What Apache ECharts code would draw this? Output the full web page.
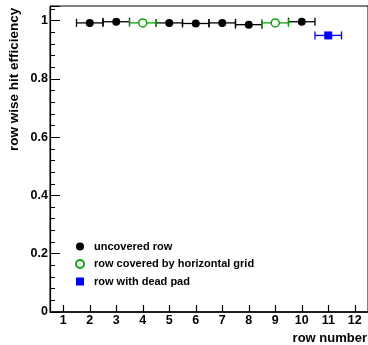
<!DOCTYPE html>
<html>
<head>
<meta charset="utf-8">
<script src="https://cdn.jsdelivr.net/npm/echarts@6/dist/echarts.min.js"></script>
<style>
  html, body { margin: 0; padding: 0; background: #fff; }
  #chart { width: 368px; height: 345px; }
</style>
</head>
<body>
<div id="chart"></div>
<script>
// row efficiencies
const uncoveredRows = [2, 3, 5, 6, 7, 8, 10];
const uncoveredEff = [0.992, 0.996, 0.992, 0.990, 0.992, 0.986, 0.996];
const gridRows = [4, 9];
const gridEff = [0.992, 0.992];
const deadRows = [11];
const deadEff = [0.949];
const rowHalfWidth = 0.5;
const xTickLabels = [1, 2, 3, 4, 5, 6, 7, 8, 9, 10, 11, 12];

const FONT = '"Liberation Sans", Arial, sans-serif';
const GREEN = '#12a012';

function pairs(xs, ys) {
  return xs.map((x, i) => [x, ys[i]]);
}

// horizontal error bar with end caps
function errBar(color) {
  return function (params, api) {
    const x = api.value(0);
    const y = api.value(1);
    const a = api.coord([x - rowHalfWidth, y]);
    const b = api.coord([x + rowHalfWidth, y]);
    const st = { stroke: color, lineWidth: 1.3 };
    return {
      type: 'group',
      children: [
        { type: 'line', shape: { x1: a[0], y1: a[1], x2: b[0], y2: b[1] }, style: st },
        { type: 'line', shape: { x1: a[0], y1: a[1] - 4, x2: a[0], y2: a[1] + 4 }, style: st },
        { type: 'line', shape: { x1: b[0], y1: b[1] - 4, x2: b[0], y2: b[1] + 4 }, style: st }
      ]
    };
  };
}

const chart = echarts.init(document.getElementById('chart'));

chart.setOption({
  animation: false,
  grid: {
    left: 50,
    top: 6,
    right: -3,
    bottom: 33,
    show: true,
    borderColor: '#000',
    borderWidth: 1
  },
  xAxis: {
    type: 'value',
    min: 0.5,
    max: 12.5,
    axisLine: { onZero: false, lineStyle: { color: '#000', width: 1.5 } },
    axisTick: {
      inside: true,
      length: 7,
      customValues: xTickLabels,
      lineStyle: { color: '#000', width: 1.2 }
    },
    axisLabel: {
      customValues: xTickLabels,
      color: '#000',
      fontFamily: FONT,
      fontWeight: 'bold',
      fontSize: 12.5,
      margin: 2
    },
    splitLine: { show: false }
  },
  yAxis: {
    type: 'value',
    min: 0,
    max: 1.05,
    interval: 0.2,
    axisLine: { show: true, lineStyle: { color: '#000', width: 1.2 } },
    axisTick: { show: true, inside: true, length: 10, lineStyle: { color: '#000' } },
    minorTick: { show: true, splitNumber: 5, length: 5, lineStyle: { color: '#000' } },
    axisLabel: {
      color: '#000',
      fontFamily: FONT,
      fontWeight: 'bold',
      fontSize: 12.5,
      margin: 2,
      showMaxLabel: false
    },
    splitLine: { show: false }
  },
  legend: {
    orient: 'vertical',
    left: 70,
    top: 236,
    itemWidth: 8,
    itemHeight: 8,
    itemGap: 6.5,
    textStyle: { fontFamily: FONT, fontWeight: 'bold', fontSize: 11, color: '#000', padding: [0, 0, 0, 5] },
    data: ['uncovered row', 'row covered by horizontal grid', 'row with dead pad']
  },
  graphic: [
    {
      type: 'text',
      rotation: Math.PI / 2,
      x: 7,
      y: 151,
      style: {
        text: 'row wise hit efficiency',
        fontFamily: FONT,
        fontWeight: 'bold',
        fontSize: 13.5,
        fill: '#000',
        align: 'left',
        verticalAlign: 'top'
      }
    },
    {
      type: 'text',
      right: 1,
      top: 332,
      style: {
        text: 'row number',
        fontFamily: FONT,
        fontWeight: 'bold',
        fontSize: 13,
        fill: '#000'
      }
    }
  ],
  series: [
    { type: 'custom', renderItem: errBar('#000'), data: pairs(uncoveredRows, uncoveredEff), silent: true },
    { type: 'custom', renderItem: errBar(GREEN), data: pairs(gridRows, gridEff), silent: true },
    { type: 'custom', renderItem: errBar('#0000ff'), data: pairs(deadRows, deadEff), silent: true },
    {
      name: 'uncovered row',
      type: 'scatter',
      symbol: 'circle',
      symbolSize: 8,
      itemStyle: { color: '#000', opacity: 1 },
      data: pairs(uncoveredRows, uncoveredEff),
      z: 5
    },
    {
      name: 'row covered by horizontal grid',
      type: 'scatter',
      symbol: 'circle',
      symbolSize: 8,
      itemStyle: { color: '#fff', borderColor: GREEN, borderWidth: 1.5, opacity: 1 },
      data: pairs(gridRows, gridEff),
      z: 5
    },
    {
      name: 'row with dead pad',
      type: 'scatter',
      symbol: 'rect',
      symbolSize: 8,
      itemStyle: { color: '#0000ff', opacity: 1 },
      data: pairs(deadRows, deadEff),
      z: 5
    }
  ]
});
</script>
</body>
</html>
